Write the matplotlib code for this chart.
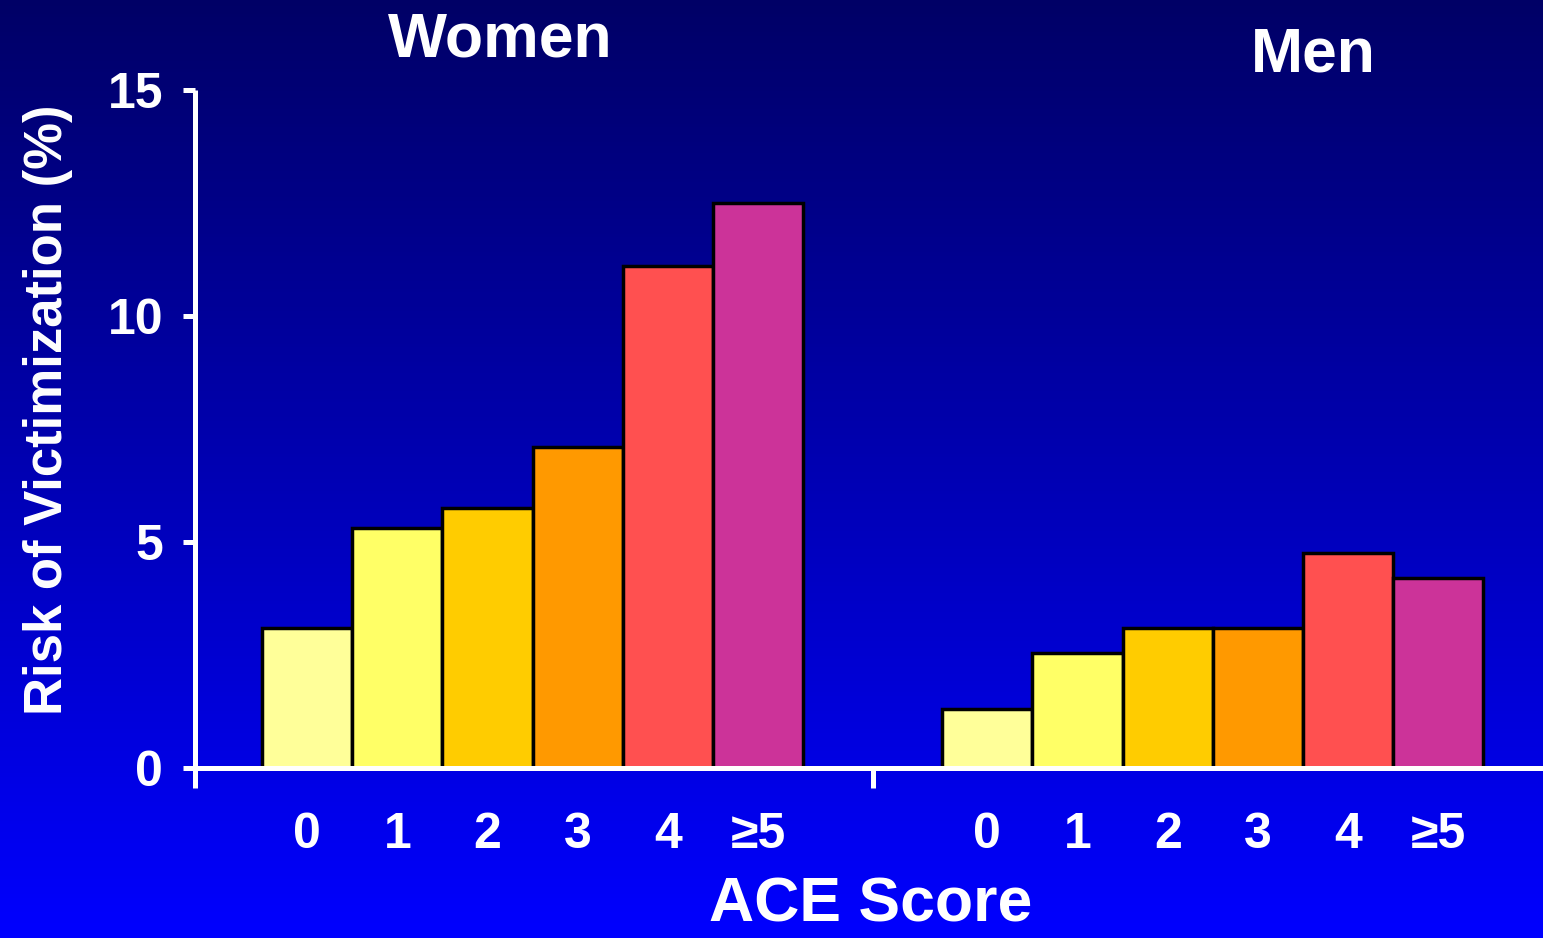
import matplotlib.pyplot as plt
import numpy as np

plt.rcParams['font.family'] = ['Liberation Sans', 'DejaVu Sans']
plt.rcParams['font.weight'] = 'bold'

scores = ["0", "1", "2", "3", "4", "≥5"]
women = [3.1, 5.3, 5.75, 7.1, 11.1, 12.5]
men = [1.3, 2.55, 3.1, 3.1, 4.75, 4.2]
bar_colors = ["#FFFF99", "#FFFF66", "#FFCC00", "#FF9900", "#FF5050", "#CC3399"]

yticks = [0, 5, 10, 15]

# group offset for the men's bars
gap = 7.54
x_women = np.arange(len(scores))
x_men = x_women + gap

fig = plt.figure(figsize=(15.43, 9.38), dpi=100)

# vertical navy-to-blue backdrop
bg = fig.add_axes([0, 0, 1, 1], zorder=-10)
grad = np.linspace(0, 1, 256).reshape(-1, 1)
rgb = np.zeros((256, 1, 3))
rgb[..., 2] = 0.40 + 0.60 * grad
bg.imshow(rgb, aspect='auto', extent=[0, 1, 0, 1], origin='upper')
bg.axis('off')

ax = fig.add_axes([0.1264, 0.1812, 0.8736, 0.7228])
ax.patch.set_alpha(0)

ax.bar(x_women, women, width=1.0, color=bar_colors, edgecolor='black', linewidth=2.5, zorder=2)
ax.bar(x_men, men, width=1.0, color=bar_colors, edgecolor='black', linewidth=2.5, zorder=2)

ax.set_xlim(-1.242, 13.70)
ax.set_ylim(0, 15)

for side in ['top', 'right']:
    ax.spines[side].set_visible(False)
for side in ['left', 'bottom']:
    ax.spines[side].set_color('white')
    ax.spines[side].set_linewidth(3.6)
    ax.spines[side].set_zorder(3)
ax.spines['left'].set_bounds(-0.44, 15)
ax.spines['left'].set_capstyle('butt')

ax.set_yticks(yticks)
ax.set_yticklabels([str(t) for t in yticks])
ax.tick_params(axis='y', direction='out', length=9, width=3.6, color='white',
               labelcolor='white', labelsize=36, pad=14)

# divider tick between the two groups, labels on minor ticks
ax.set_xticks([(len(scores) - 1 + gap) / 2])
ax.set_xticklabels([""])
ax.tick_params(axis='x', which='major', direction='out', length=14.4, width=3.6, color='white')
ax.set_xticks(np.concatenate([x_women, x_men]), minor=True)
ax.set_xticklabels(scores + scores, minor=True)
ax.tick_params(axis='x', which='minor', length=0, labelcolor='white', labelsize=36, pad=32)

fig.text(0.324, 0.957, "Women", color='white', fontsize=45, fontweight='bold', ha='center', va='center')
fig.text(0.851, 0.941, "Men", color='white', fontsize=45, fontweight='bold', ha='center', va='center')
fig.text(0.5645, 0.004, "ACE Score", color='white', fontsize=45, fontweight='bold', ha='center', va='bottom')
fig.text(0.031, 0.563, "Risk of Victimization (%)", color='white', fontsize=38, fontweight='bold',
         ha='center', va='center', rotation=90)

fig.savefig("out.png", dpi=100)
